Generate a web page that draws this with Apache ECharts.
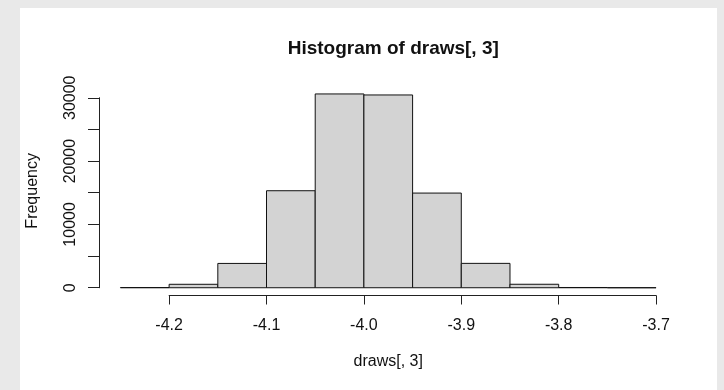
<!DOCTYPE html>
<html>
<head>
<meta charset="utf-8">
<script src="https://cdn.jsdelivr.net/npm/echarts@6/dist/echarts.min.js"></script>
<style>html,body{margin:0;padding:0;background:#e9e9e9;}#c{width:724px;height:390px;}</style>
</head>
<body>
<div id="c"></div>
<script>
// Histogram data (bin width 0.05)
var binStarts = [-4.25, -4.20, -4.15, -4.10, -4.05, -4.00, -3.95, -3.90, -3.85, -3.80, -3.75];
var binWidth = 0.05;
var counts = [30, 545, 3840, 15320, 30600, 30440, 14950, 3850, 550, 40, 3];
var xTicks = [-4.2, -4.1, -4.0, -3.9, -3.8, -3.7];
var yTicks = [0, 5000, 10000, 15000, 20000, 25000, 30000];
var yLabelStep = 10000;

var titleText = 'Histogram of draws[, 3]';
var xName = 'draws[, 3]';
var yName = 'Frequency';

// plot region (R style, 4% extension)
var W = 724, H = 390;
var plotL = 99, plotR = 677.5, plotT = 86.2, plotB = 295.5;
var xMinD = binStarts[0], xMaxD = binStarts[binStarts.length - 1] + binWidth;
var xExt = (xMaxD - xMinD) * 0.04;
var xlim = [xMinD - xExt, xMaxD + xExt];
var yMaxD = Math.max.apply(null, counts);
var yExt = yMaxD * 0.04;
var ylim = [-yExt, yMaxD + yExt];

function xpx(v) { return plotL + (v - xlim[0]) / (xlim[1] - xlim[0]) * (plotR - plotL); }
function ypx(v) { return plotB - (v - ylim[0]) / (ylim[1] - ylim[0]) * (plotB - plotT); }

var xAxL = xpx(xTicks[0]), xAxR = xpx(xTicks[xTicks.length - 1]);
var yAxB = ypx(yTicks[0]), yAxT = ypx(yTicks[yTicks.length - 1]);

var data = binStarts.map(function (s, i) { return [s, s + binWidth, counts[i]]; });

var font = 'Liberation Sans, Arial, Helvetica, sans-serif';
var ink = '#111';
var hidden = {axisLine: {show: false}, axisTick: {show: false}, axisLabel: {show: false}, splitLine: {show: false}};

var chart = echarts.init(document.getElementById('c'), null, {renderer: 'canvas'});
chart.setOption({
  backgroundColor: '#e9e9e9',
  animation: false,
  graphic: [{
    type: 'rect', z: -10, silent: true,
    shape: {x: 20, y: 8, width: 697, height: 382},
    style: {fill: '#ffffff'}
  }],
  title: {
    text: titleText,
    left: (plotL + plotR) / 2, top: 34, textAlign: 'center',
    textStyle: {fontFamily: font, fontWeight: 'bold', fontSize: 19, color: ink}
  },
  grid: [
    {left: plotL, right: W - plotR, top: plotT, bottom: H - plotB},
    {left: xAxL, right: W - xAxR, top: 200, bottom: H - plotB},
    {left: plotL, width: 10, top: yAxT, bottom: H - yAxB}
  ],
  xAxis: [
    Object.assign({gridIndex: 0, type: 'value', min: xlim[0], max: xlim[1],
     name: xName, nameLocation: 'middle', nameGap: 58,
     nameTextStyle: {fontFamily: font, fontSize: 16, color: ink}}, hidden),
    {gridIndex: 1, type: 'value', min: xTicks[0], max: xTicks[xTicks.length - 1], interval: 0.1,
     axisLine: {show: true, lineStyle: {color: '#222', width: 1}},
     axisTick: {show: true, length: 9, lineStyle: {color: '#222', width: 1}},
     axisLabel: {show: true, margin: 22, fontFamily: font, fontSize: 16, color: ink,
       formatter: function (v) { return v.toFixed(1); }},
     splitLine: {show: false}},
    Object.assign({gridIndex: 2, type: 'value', min: 0, max: 1, show: false}, hidden)
  ],
  yAxis: [
    Object.assign({gridIndex: 0, type: 'value', min: ylim[0], max: ylim[1],
     name: yName, nameLocation: 'middle', nameGap: 58, nameRotate: 90,
     nameTextStyle: {fontFamily: font, fontSize: 16, color: ink}}, hidden),
    Object.assign({gridIndex: 1, type: 'value', min: 0, max: 1, show: false}, hidden),
    {gridIndex: 2, type: 'value', min: yTicks[0], max: yTicks[yTicks.length - 1], interval: yTicks[1] - yTicks[0],
     axisLine: {show: true, lineStyle: {color: '#222', width: 1}},
     axisTick: {show: true, length: 11, lineStyle: {color: '#222', width: 1}},
     axisLabel: {show: true, rotate: 90, margin: 20, fontFamily: font, fontSize: 16, color: ink,
       formatter: function (v) { return (Math.round(v) % yLabelStep === 0) ? String(Math.round(v)) : ''; }},
     splitLine: {show: false}}
  ],
  series: [{
    type: 'custom',
    xAxisIndex: 0, yAxisIndex: 0,
    data: data,
    encode: {x: [0, 1], y: 2},
    renderItem: function (params, api) {
      var p0 = api.coord([api.value(0), 0]);
      var p1 = api.coord([api.value(1), api.value(2)]);
      return {
        type: 'rect',
        shape: {x: p0[0], y: p1[1], width: p1[0] - p0[0], height: p0[1] - p1[1]},
        style: {fill: '#d3d3d3', stroke: '#111', lineWidth: 1}
      };
    }
  }]
});
</script>
</body>
</html>
